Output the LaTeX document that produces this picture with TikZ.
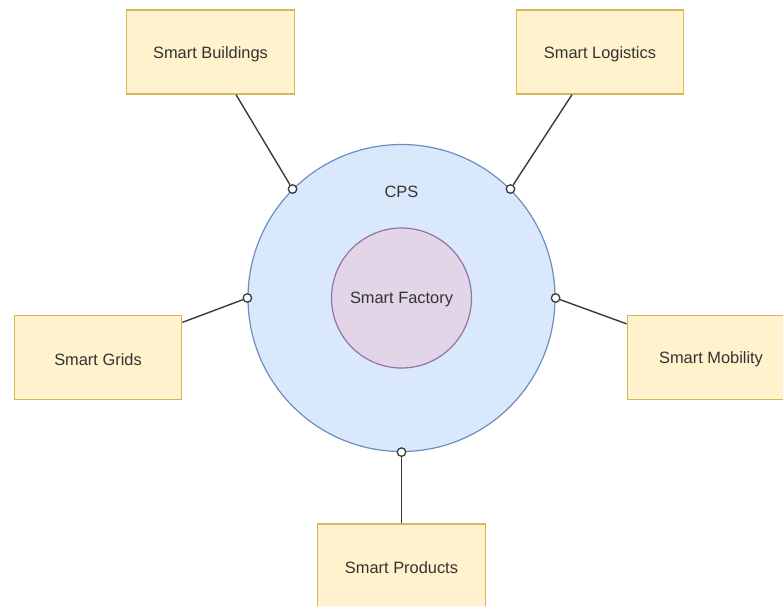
\documentclass[tikz,border=0pt]{standalone}
\usepackage{fontspec}
\setmainfont{Liberation Sans}
\definecolor{boxfill}{HTML}{FFF2CC}
\definecolor{boxline}{HTML}{D6B656}
\definecolor{cpsfill}{HTML}{DAE8FC}
\definecolor{cpsline}{HTML}{6C8EBF}
\definecolor{sffill}{HTML}{E1D5E7}
\definecolor{sfline}{HTML}{9673A6}
\definecolor{ink}{HTML}{333333}
\definecolor{wire}{HTML}{3A3A3A}
\begin{document}
\begin{tikzpicture}[x=1pt,y=-1pt,
  every node/.style={font=\fontsize{16.4}{19}\selectfont, text=ink},
  areabox/.style={draw=boxline, fill=boxfill, line width=1.3pt,
    minimum width=167.5pt, minimum height=84pt, inner sep=0pt},
  cpsring/.style={circle, draw=cpsline, fill=cpsfill, line width=1.2pt,
    minimum size=307pt, inner sep=0pt},
  corering/.style={circle, draw=sfline, fill=sffill, line width=1.2pt,
    minimum size=140pt, inner sep=0pt},
  portdot/.style={circle, draw=wire, fill=white, line width=1.3pt,
    minimum size=8.5pt, inner sep=0pt},
  wireline/.style={draw=wire, line width=1.4pt}]
\useasboundingbox (0,0) rectangle (783,605);
\clip (0,0) rectangle (783,605);

% central rings
\node[cpsring] (cps) at (401.5,298) {};
\node (cpslabel) at (401.5,192) {CPS};
\node[corering] (factory) at (401.5,298) {};
\node (factorylabel) at (401.5,299.5) {Smart Factory};

% surrounding areas
\node[areabox] (buildings) at (210.5,52) {};
\node[areabox] (logistics) at (600,52) {};
\node[areabox] (grids) at (98,357.5) {};
\node[areabox] (mobility) at (711,357.5) {};
\node[areabox] (products) at (401.5,566) {};

% box captions, set slightly below the geometric centre
\foreach \b/\t in {buildings/Smart Buildings, logistics/Smart Logistics,
                   grids/Smart Grids, mobility/Smart Mobility,
                   products/Smart Products}
  \node (\b-text) at ([yshift=-2pt]\b.center) {\t};

% connection ports on the CPS ring
\node[portdot] (pnw) at (cps.135) {};
\node[portdot] (pne) at (cps.45) {};
\node[portdot] (pw)  at (cps.180) {};
\node[portdot] (pe)  at (cps.0) {};
\node[portdot] (ps)  at (cps.270) {};

% attachment points on the boxes
\coordinate (abuild) at ([xshift=25.5pt]buildings.south);
\coordinate (alog)   at ([xshift=-28pt]logistics.south);
\coordinate (agrid)  at ([yshift=-7.5pt]grids.north east);
\coordinate (amob)   at ([yshift=-9pt]mobility.north west);

\draw[wireline] (abuild) -- (pnw);
\draw[wireline] (alog) -- (pne);
\draw[wireline] (agrid) -- (pw);
\draw[wireline] (amob) -- (pe);
\draw[wireline] (products.north) -- (ps);
\end{tikzpicture}
\end{document}
